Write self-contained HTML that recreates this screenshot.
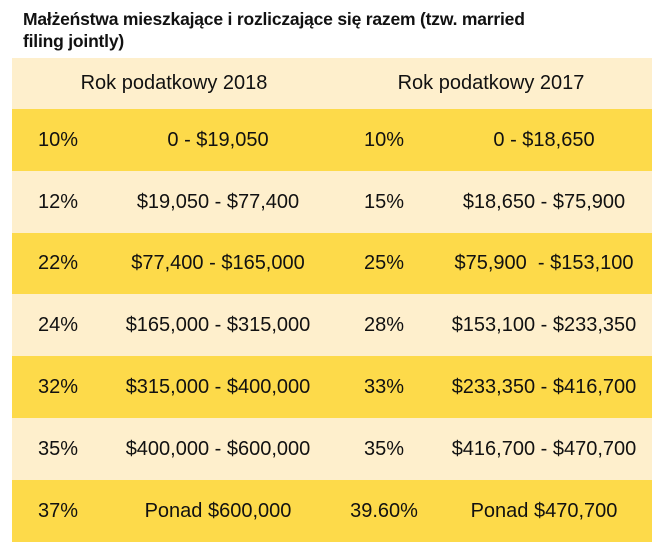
<!DOCTYPE html>
<html><head><meta charset="utf-8"><style>
body{margin:0;width:656px;height:546px;background:#fff;font-family:"Liberation Sans",sans-serif;position:relative;overflow:hidden}
.t{position:absolute;left:23px;top:8px;font-weight:bold;font-size:17.5px;line-height:22px;color:#111;letter-spacing:-0.2px}
.r{position:absolute;left:12px;width:640px}
.c{position:absolute;top:0;height:100%;display:flex;align-items:center;justify-content:center;font-size:20px;color:#111;white-space:nowrap}
</style></head><body>
<div class="t">Małżeństwa mieszkające i rozliczające się razem (tzw. married<br>filing jointly)</div>
<div class="r" style="top:58px;height:51px;background:#feefcc">
<div class="c" style="left:62px;width:200px">Rok podatkowy 2018</div>
<div class="c" style="left:379px;width:200px">Rok podatkowy 2017</div>
</div>
<div id="rows"></div>
<script>
var d=[["10%","0 - $19,050","10%","0 - $18,650"],["12%","$19,050 - $77,400","15%","$18,650 - $75,900"],["22%","$77,400 - $165,000","25%","$75,900 &nbsp;- $153,100"],["24%","$165,000 - $315,000","28%","$153,100 - $233,350"],["32%","$315,000 - $400,000","33%","$233,350 - $416,700"],["35%","$400,000 - $600,000","35%","$416,700 - $470,700"],["37%","Ponad $600,000","39.60%","Ponad $470,700"]];
var h="",y=109,step=61.8;
d.forEach(function(r,i){var t=Math.round(y+i*step),b=Math.round(y+(i+1)*step);
h+='<div class="r" style="top:'+t+'px;height:'+(b-t)+'px;background:'+(i%2?'#feefcc':'#fdda4a')+'">'+
'<div class="c" style="left:-4px;width:100px">'+r[0]+'</div>'+
'<div class="c" style="left:106px;width:200px">'+r[1]+'</div>'+
'<div class="c" style="left:322px;width:100px">'+r[2]+'</div>'+
'<div class="c" style="left:432px;width:200px">'+r[3]+'</div></div>';});
document.getElementById("rows").innerHTML=h;
</script>
</body></html>
